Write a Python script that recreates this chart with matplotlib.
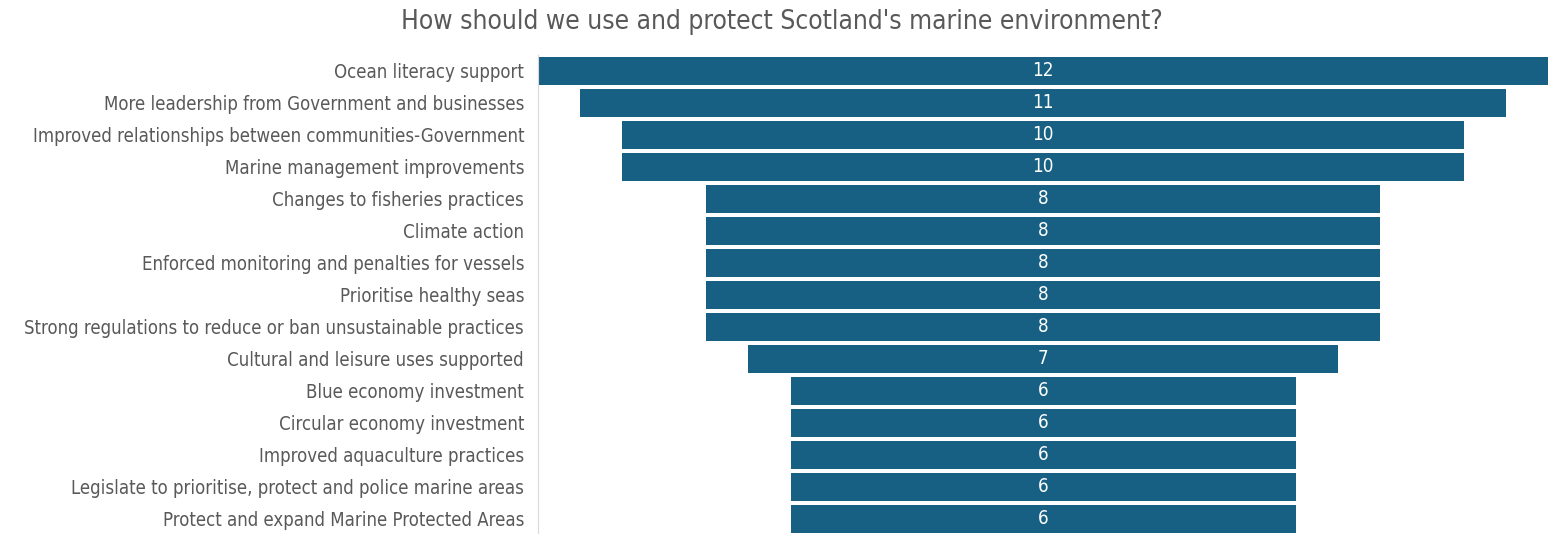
import matplotlib
matplotlib.use('Agg')
import matplotlib.pyplot as plt
from matplotlib import font_manager

categories = [
    'Ocean literacy support',
    'More leadership from Government and businesses',
    'Improved relationships between communities-Government',
    'Marine management improvements',
    'Changes to fisheries practices',
    'Climate action',
    'Enforced monitoring and penalties for vessels',
    'Prioritise healthy seas',
    'Strong regulations to reduce or ban unsustainable practices',
    'Cultural and leisure uses supported',
    'Blue economy investment',
    'Circular economy investment',
    'Improved aquaculture practices',
    'Legislate to prioritise, protect and police marine areas',
    'Protect and expand Marine Protected Areas',
]
counts = [12, 11, 10, 10, 8, 8, 8, 8, 8, 7, 6, 6, 6, 6, 6]

# look for a narrow face, otherwise fall back to Liberation Sans
narrow = [f for f in font_manager.fontManager.ttflist
          if ('Narrow' in f.name or 'Condensed' in f.name or f.stretch in ('condensed', 'semi-condensed', 'extra-condensed'))
          and f.weight in (300, 400, 'normal', 'regular', 'light')]
if narrow:
    fam = [narrow[0].name, 'DejaVu Sans']
    stretch = narrow[0].stretch
else:
    fam = ['Liberation Sans', 'DejaVu Sans']
    stretch = 'normal'
plt.rcParams['font.family'] = fam
plt.rcParams['font.stretch'] = stretch

bar_color = '#176083'
text_color = '#595959'

fig = plt.figure(figsize=(15.55, 5.34), dpi=100)
ax = fig.add_axes([538 / 1555, 1 - 535 / 534, (1548 - 538) / 1555, (535 - 55) / 534])

top = max(counts)
ypos = list(range(len(categories)))
lefts = [(top - c) / 2 for c in counts]
ax.barh(ypos, counts, left=lefts, height=0.9, color=bar_color)
for y, c, l in zip(ypos, counts, lefts):
    ax.text(l + c / 2, y, str(c), ha='center', va='center', color='white', fontsize=13.5)

ax.set_xlim(0, top)
ax.set_ylim(len(categories) - 0.5, -0.5)
ax.set_yticks(ypos)
labels = ax.set_yticklabels(categories, fontsize=14, color=text_color)
ax.tick_params(axis='y', length=0, pad=10)
ax.set_xticks([])
for s in ['top', 'right', 'bottom']:
    ax.spines[s].set_visible(False)
ax.spines['left'].set_color('#d9d9d9')

# shrink labels so the longest one spans about 505 px like the reference
fig.canvas.draw()
r = fig.canvas.get_renderer()
widest = max(t.get_window_extent(r).width for t in labels)
size = min(14, 14 * 505 / widest)
for t in labels:
    t.set_fontsize(size)

title = fig.text(782 / 1555, 1 - 22 / 534, "How should we use and protect Scotland's marine environment?",
                 ha='center', va='center', fontsize=20, color=text_color)
fig.canvas.draw()
tw = title.get_window_extent(r).width
title.set_fontsize(min(20, 20 * 760 / tw))

fig.savefig('out.png', dpi=100)
